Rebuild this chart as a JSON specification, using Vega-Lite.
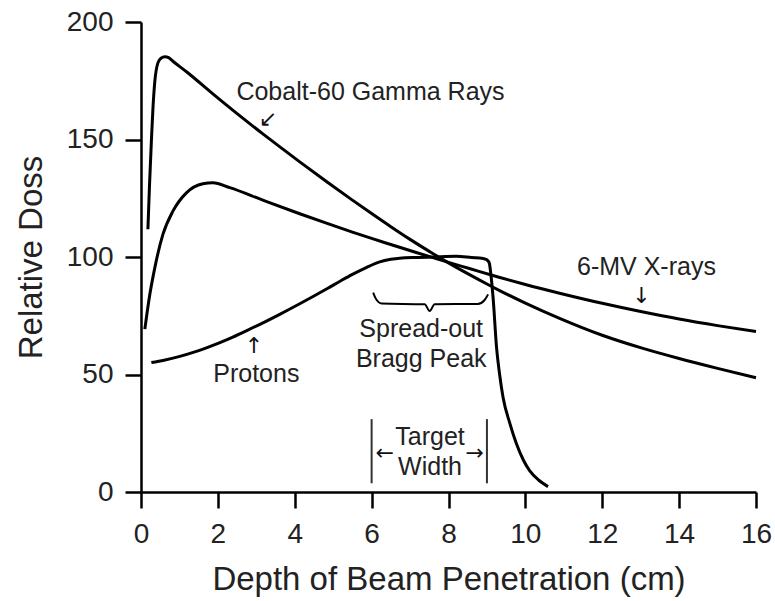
{
  "$schema": "https://vega.github.io/schema/vega-lite/v6.json",
  "autosize": "none",
  "width": 615,
  "height": 470,
  "padding": {"left": 141, "top": 22, "right": 19, "bottom": 109},
  "background": "white",
  "config": {
    "view": {"stroke": null},
    "font": "Liberation Sans",
    "axis": {
      "grid": false,
      "domainColor": "#000",
      "domainWidth": 2.5,
      "tickColor": "#000",
      "tickWidth": 2.5,
      "tickSize": 16,
      "labelFont": "Liberation Sans",
      "labelFontSize": 28,
      "labelColor": "#222",
      "titleFont": "Liberation Sans",
      "titleFontWeight": "normal",
      "titleColor": "#222"
    }
  },
  "datasets": {
    "curves": [
      {"series": "Cobalt-60", "x": 0.18, "y": 111.8},
      {"series": "Cobalt-60", "x": 0.22, "y": 130},
      {"series": "Cobalt-60", "x": 0.27, "y": 149.3},
      {"series": "Cobalt-60", "x": 0.31, "y": 163},
      {"series": "Cobalt-60", "x": 0.36, "y": 174.8},
      {"series": "Cobalt-60", "x": 0.44, "y": 182.6},
      {"series": "Cobalt-60", "x": 0.52, "y": 184.6},
      {"series": "Cobalt-60", "x": 0.62, "y": 185.2},
      {"series": "Cobalt-60", "x": 0.72, "y": 184.8},
      {"series": "Cobalt-60", "x": 0.83, "y": 183.3},
      {"series": "Cobalt-60", "x": 1.2, "y": 178.6},
      {"series": "Cobalt-60", "x": 1.87, "y": 169.4},
      {"series": "Cobalt-60", "x": 2.5, "y": 161.0},
      {"series": "Cobalt-60", "x": 3.17, "y": 152.4},
      {"series": "Cobalt-60", "x": 3.7, "y": 145.8},
      {"series": "Cobalt-60", "x": 4.13, "y": 140.5},
      {"series": "Cobalt-60", "x": 4.86, "y": 131.7},
      {"series": "Cobalt-60", "x": 5.5, "y": 124.2},
      {"series": "Cobalt-60", "x": 6, "y": 118.5},
      {"series": "Cobalt-60", "x": 6.5, "y": 112.9},
      {"series": "Cobalt-60", "x": 7, "y": 107.5},
      {"series": "Cobalt-60", "x": 7.6, "y": 101.4},
      {"series": "Cobalt-60", "x": 8, "y": 97.5},
      {"series": "Cobalt-60", "x": 8.5, "y": 92.9},
      {"series": "Cobalt-60", "x": 9, "y": 88.5},
      {"series": "Cobalt-60", "x": 9.33, "y": 85.7},
      {"series": "Cobalt-60", "x": 10, "y": 80.4},
      {"series": "Cobalt-60", "x": 10.89, "y": 73.9},
      {"series": "Cobalt-60", "x": 12, "y": 66.7},
      {"series": "Cobalt-60", "x": 13.06, "y": 61.1},
      {"series": "Cobalt-60", "x": 14, "y": 56.8},
      {"series": "Cobalt-60", "x": 15, "y": 52.6},
      {"series": "Cobalt-60", "x": 16, "y": 48.6},
      {"series": "6-MV", "x": 0.1, "y": 69.3},
      {"series": "6-MV", "x": 0.23, "y": 84.1},
      {"series": "6-MV", "x": 0.36, "y": 95.5},
      {"series": "6-MV", "x": 0.57, "y": 109.6},
      {"series": "6-MV", "x": 0.83, "y": 119.5},
      {"series": "6-MV", "x": 1.18, "y": 127.3},
      {"series": "6-MV", "x": 1.61, "y": 131.2},
      {"series": "6-MV", "x": 1.87, "y": 131.6},
      {"series": "6-MV", "x": 2.31, "y": 129.5},
      {"series": "6-MV", "x": 3.17, "y": 124.2},
      {"series": "6-MV", "x": 4.13, "y": 118.4},
      {"series": "6-MV", "x": 4.86, "y": 114.2},
      {"series": "6-MV", "x": 5.5, "y": 110.6},
      {"series": "6-MV", "x": 6, "y": 107.9},
      {"series": "6-MV", "x": 6.5, "y": 105.3},
      {"series": "6-MV", "x": 7.16, "y": 101.9},
      {"series": "6-MV", "x": 8, "y": 97.7},
      {"series": "6-MV", "x": 8.5, "y": 95.3},
      {"series": "6-MV", "x": 9.29, "y": 91.5},
      {"series": "6-MV", "x": 10, "y": 88.3},
      {"series": "6-MV", "x": 10.89, "y": 84.6},
      {"series": "6-MV", "x": 12, "y": 80.3},
      {"series": "6-MV", "x": 12.97, "y": 76.9},
      {"series": "6-MV", "x": 14, "y": 73.6},
      {"series": "6-MV", "x": 15, "y": 70.8},
      {"series": "6-MV", "x": 16, "y": 68.3},
      {"series": "Protons", "x": 0.27, "y": 55.1},
      {"series": "Protons", "x": 0.6, "y": 56.1},
      {"series": "Protons", "x": 1.01, "y": 57.7},
      {"series": "Protons", "x": 1.4, "y": 59.6},
      {"series": "Protons", "x": 1.87, "y": 62.4},
      {"series": "Protons", "x": 2.3, "y": 65.3},
      {"series": "Protons", "x": 2.74, "y": 68.6},
      {"series": "Protons", "x": 3.2, "y": 72.2},
      {"series": "Protons", "x": 3.61, "y": 75.6},
      {"series": "Protons", "x": 4.13, "y": 80.1},
      {"series": "Protons", "x": 4.5, "y": 83.4},
      {"series": "Protons", "x": 4.86, "y": 86.7},
      {"series": "Protons", "x": 5.2, "y": 89.9},
      {"series": "Protons", "x": 5.5, "y": 92.6},
      {"series": "Protons", "x": 5.86, "y": 95.5},
      {"series": "Protons", "x": 6.21, "y": 97.9},
      {"series": "Protons", "x": 6.5, "y": 99.0},
      {"series": "Protons", "x": 6.73, "y": 99.5},
      {"series": "Protons", "x": 7.2, "y": 99.8},
      {"series": "Protons", "x": 7.6, "y": 100},
      {"series": "Protons", "x": 8.2, "y": 100.3},
      {"series": "Protons", "x": 8.6, "y": 99.8},
      {"series": "Protons", "x": 8.9, "y": 99.4},
      {"series": "Protons", "x": 9.0, "y": 98.8},
      {"series": "Protons", "x": 9.06, "y": 97.5},
      {"series": "Protons", "x": 9.1, "y": 93},
      {"series": "Protons", "x": 9.16, "y": 82.7},
      {"series": "Protons", "x": 9.25, "y": 61.5},
      {"series": "Protons", "x": 9.33, "y": 50},
      {"series": "Protons", "x": 9.42, "y": 40.2},
      {"series": "Protons", "x": 9.6, "y": 29},
      {"series": "Protons", "x": 9.77, "y": 20.4},
      {"series": "Protons", "x": 9.95, "y": 13.5},
      {"series": "Protons", "x": 10.11, "y": 9.1},
      {"series": "Protons", "x": 10.35, "y": 5},
      {"series": "Protons", "x": 10.59, "y": 2.3}
    ],
    "brace": [
      {"x": 6.04, "y": 84.8},
      {"x": 6.11, "y": 82.2},
      {"x": 6.26, "y": 80.2},
      {"x": 7.38, "y": 79.9},
      {"x": 7.51, "y": 77.0},
      {"x": 7.64, "y": 79.9},
      {"x": 8.76, "y": 80.0},
      {"x": 8.94, "y": 81.7},
      {"x": 9.03, "y": 84.1}
    ],
    "bounds": [
      {"x": 6.0, "y": 3.7, "y2": 31.0},
      {"x": 9.0, "y": 3.7, "y2": 31.0}
    ],
    "labels": [
      {"text": "Cobalt-60 Gamma Rays", "x": 5.97, "y": 170.3},
      {"text": "6-MV X-rays", "x": 13.15, "y": 95.7},
      {"text": "Spread-out", "x": 7.29, "y": 69.3},
      {"text": "Bragg Peak", "x": 7.29, "y": 56.5},
      {"text": "Protons", "x": 3.0, "y": 50.3},
      {"text": "Target", "x": 7.52, "y": 23.2},
      {"text": "Width", "x": 7.52, "y": 10.5}
    ],
    "arrows": [
      {"text": "↙", "x": 3.3, "y": 158.8},
      {"text": "↓", "x": 13.02, "y": 83.4},
      {"text": "↑", "x": 2.94, "y": 62.2},
      {"text": "←", "x": 6.34, "y": 16.8},
      {"text": "→", "x": 8.68, "y": 16.8}
    ]
  },
  "layer": [
    {
      "data": {"name": "curves"},
      "mark": {"type": "line", "color": "#000", "strokeWidth": 3, "interpolate": "monotone"},
      "encoding": {
        "x": {"field": "x", "type": "quantitative", "scale": {"domain": [0, 16], "nice": false},
          "axis": {"values": [0, 2, 4, 6, 8, 10, 12, 14, 16], "title": "Depth of Beam Penetration (cm)", "titleFontSize": 33, "labelPadding": 12, "titlePadding": 15, "labelFlush": false}},
        "y": {"field": "y", "type": "quantitative", "scale": {"domain": [0, 200], "nice": false},
          "axis": {"values": [0, 50, 100, 150, 200], "title": "Relative Doss", "titleFontSize": 33, "labelPadding": 12, "titlePadding": 18, "labelFlush": false}},
        "detail": {"field": "series"}
      }
    },
    {
      "data": {"name": "brace"},
      "mark": {"type": "line", "color": "#000", "strokeWidth": 2, "interpolate": "monotone"},
      "encoding": {
        "x": {"field": "x", "type": "quantitative"},
        "y": {"field": "y", "type": "quantitative"}
      }
    },
    {
      "data": {"name": "bounds"},
      "mark": {"type": "rule", "color": "#333", "strokeWidth": 2},
      "encoding": {
        "x": {"field": "x", "type": "quantitative"},
        "y": {"field": "y", "type": "quantitative"},
        "y2": {"field": "y2"}
      }
    },
    {
      "data": {"name": "labels"},
      "mark": {"type": "text", "font": "Liberation Sans", "fontSize": 25, "color": "#222", "align": "center", "baseline": "middle"},
      "encoding": {
        "x": {"field": "x", "type": "quantitative"},
        "y": {"field": "y", "type": "quantitative"},
        "text": {"field": "text"}
      }
    },
    {
      "data": {"name": "arrows"},
      "mark": {"type": "text", "font": "DejaVu Sans", "fontSize": 22, "color": "#111", "align": "center", "baseline": "middle"},
      "encoding": {
        "x": {"field": "x", "type": "quantitative"},
        "y": {"field": "y", "type": "quantitative"},
        "text": {"field": "text"}
      }
    }
  ]
}
